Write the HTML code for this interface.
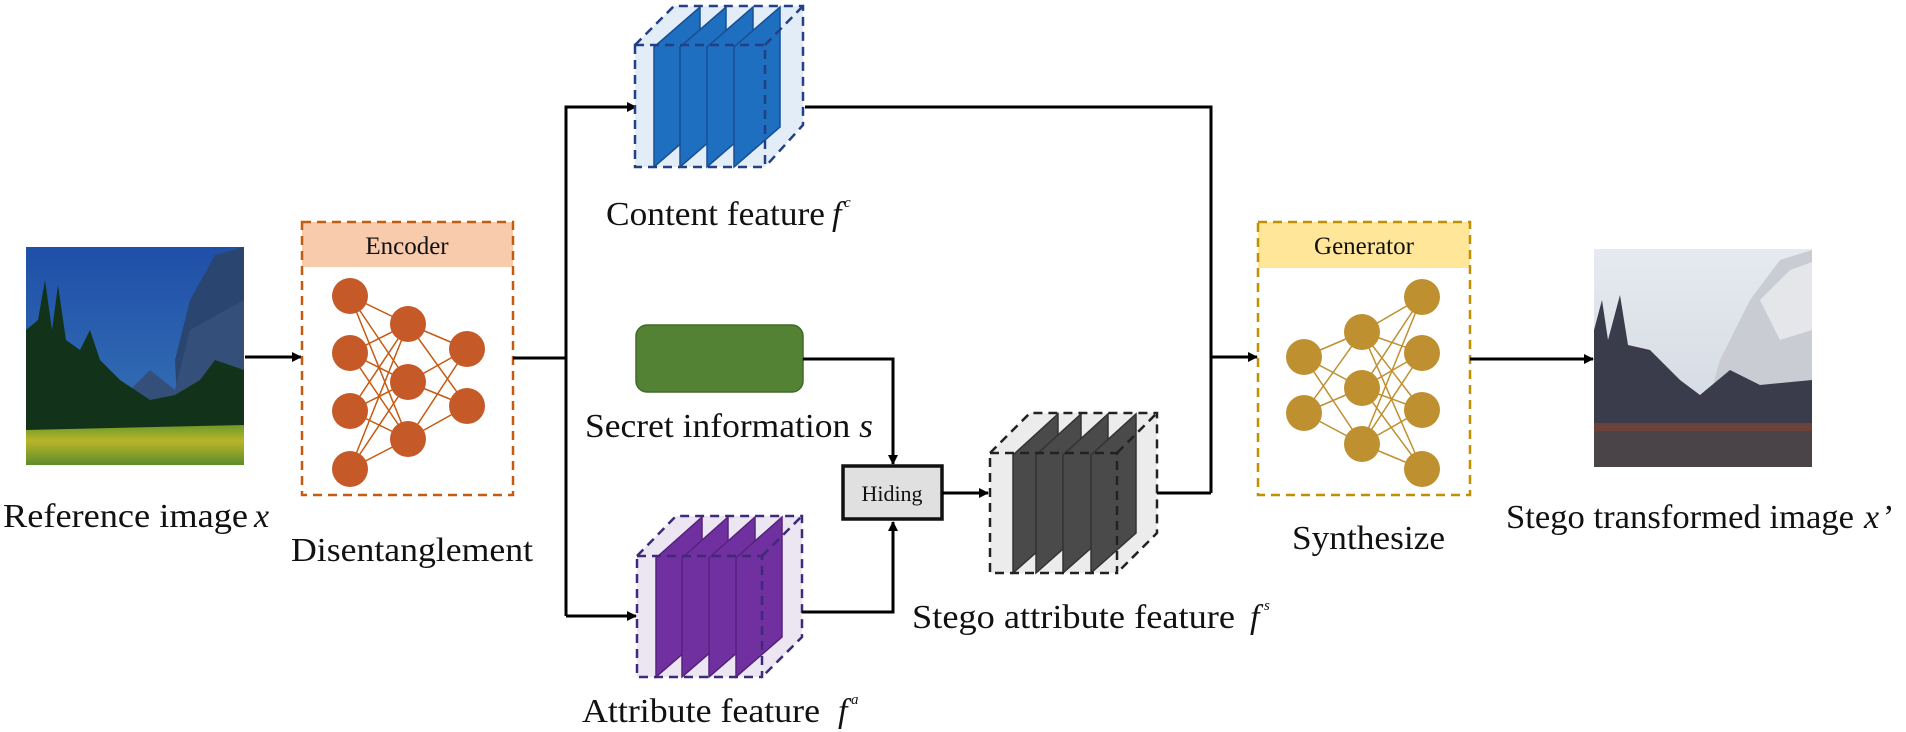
<!DOCTYPE html>
<html><head><meta charset="utf-8"><style>
html,body{margin:0;padding:0;background:#fff;}
svg{display:block;}
text{font-family:"Liberation Serif",serif;fill:#111;}
</style></head><body>
<svg width="1906" height="732" viewBox="0 0 1906 732" xmlns="http://www.w3.org/2000/svg">
<defs>
<marker id="ar" markerWidth="10" markerHeight="10" refX="9" refY="5" orient="auto" markerUnits="userSpaceOnUse">
<path d="M0,0 L10,5 L0,10 z" fill="#000"/></marker>
<linearGradient id="sky" x1="0" y1="0" x2="0" y2="1"><stop offset="0" stop-color="#1f4fa8"/><stop offset="1" stop-color="#3a78b8"/></linearGradient>
<linearGradient id="grass" x1="0" y1="0" x2="0" y2="1"><stop offset="0" stop-color="#6c9a2a"/><stop offset="0.4" stop-color="#b9b52a"/><stop offset="1" stop-color="#5d8c2a"/></linearGradient>
<linearGradient id="sky2" x1="0" y1="0" x2="0" y2="1"><stop offset="0" stop-color="#e6eaf0"/><stop offset="1" stop-color="#cfd6df"/></linearGradient>
</defs>

<rect x="26" y="247" width="218" height="218" fill="url(#sky)"/>
<path d="M180,465 L175,360 L190,300 L215,255 L244,247 L244,465z" fill="#2a4670"/>
<path d="M120,400 L150,370 L175,390 L190,330 L244,300 L244,420 L120,420z" fill="#34507a"/>
<path d="M26,420 L26,330 L38,320 L45,280 L52,330 L58,285 L66,340 L80,350 L90,330 L100,360 L120,380 L150,400 L175,395 L200,380 L215,360 L244,370 L244,430 L26,430z" fill="#12331a"/>
<path d="M26,430 L244,425 L244,465 L26,465z" fill="url(#grass)"/>

<line x1="245" y1="357" x2="301" y2="357" stroke="#000" stroke-width="3" marker-end="url(#ar)"/>

<rect x="302" y="222" width="211" height="45" fill="#f8cbad"/>
<rect x="302" y="222" width="211" height="273" fill="none" stroke="#c55a11" stroke-width="2.5" stroke-dasharray="9 6"/>
<text x="407" y="254" font-size="25" text-anchor="middle">Encoder</text>
<g stroke="#c55a11" stroke-width="1.5">
<line x1="350" y1="296" x2="408" y2="324"/><line x1="350" y1="296" x2="408" y2="382"/><line x1="350" y1="296" x2="408" y2="439"/>
<line x1="350" y1="353" x2="408" y2="324"/><line x1="350" y1="353" x2="408" y2="382"/><line x1="350" y1="353" x2="408" y2="439"/>
<line x1="350" y1="411" x2="408" y2="324"/><line x1="350" y1="411" x2="408" y2="382"/><line x1="350" y1="411" x2="408" y2="439"/>
<line x1="350" y1="469" x2="408" y2="324"/><line x1="350" y1="469" x2="408" y2="382"/><line x1="350" y1="469" x2="408" y2="439"/>
<line x1="408" y1="324" x2="467" y2="349"/><line x1="408" y1="324" x2="467" y2="406"/>
<line x1="408" y1="382" x2="467" y2="349"/><line x1="408" y1="382" x2="467" y2="406"/>
<line x1="408" y1="439" x2="467" y2="349"/><line x1="408" y1="439" x2="467" y2="406"/>
</g>
<g fill="#c55a28">
<circle cx="350" cy="296" r="18"/><circle cx="350" cy="353" r="18"/><circle cx="350" cy="411" r="18"/><circle cx="350" cy="469" r="18"/>
<circle cx="408" cy="324" r="18"/><circle cx="408" cy="382" r="18"/><circle cx="408" cy="439" r="18"/>
<circle cx="467" cy="349" r="18"/><circle cx="467" cy="406" r="18"/>
</g>

<polyline points="513,358 566,358" fill="none" stroke="#000" stroke-width="3"/>
<polyline points="566,616 566,107 636,107" fill="none" stroke="#000" stroke-width="3" marker-end="url(#ar)"/>
<polyline points="566,616 636,616" fill="none" stroke="#000" stroke-width="3" marker-end="url(#ar)"/>

<g>
<path d="M635,45 L674,6 L803,6 L803,125 L765,167 L635,167z" fill="#e3edf8"/>
<g fill="#1f6fc0" stroke="#164f94" stroke-width="1.5">
<path d="M654,167 L654,47 L700,7 L700,127z"/>
<path d="M680,167 L680,47 L726,7 L726,127z"/>
<path d="M707,167 L707,47 L753,7 L753,127z"/>
<path d="M734,167 L734,47 L780,7 L780,127z"/>
</g>
<g fill="none" stroke="#233f86" stroke-width="2.5" stroke-dasharray="9 6">
<rect x="635" y="45" width="130" height="122"/>
<path d="M635,45 L674,6 L803,6 L803,125 L765,167"/>
<path d="M765,45 L803,6"/>
</g>
</g>
<text x="606" y="225" font-size="34" textLength="219" lengthAdjust="spacingAndGlyphs">Content feature</text>
<text x="832" y="225" font-size="34" font-style="italic">f</text>
<text x="844" y="207" font-size="15" font-style="italic">c</text>

<polyline points="805,107 1211,107 1211,493" fill="none" stroke="#000" stroke-width="3"/>
<line x1="1211" y1="357" x2="1257" y2="357" stroke="#000" stroke-width="3" marker-end="url(#ar)"/>

<rect x="636" y="325" width="167" height="67" rx="11" fill="#548235" stroke="#3f6a26" stroke-width="1.5"/>
<text x="585" y="437" font-size="34" textLength="288" lengthAdjust="spacingAndGlyphs">Secret information <tspan font-style="italic">s</tspan></text>
<polyline points="803,359 893,359 893,464" fill="none" stroke="#000" stroke-width="3" marker-end="url(#ar)"/>

<rect x="843" y="466" width="99" height="53" fill="#e0e0e0" stroke="#111" stroke-width="3.5"/>
<text x="892" y="501" font-size="22" text-anchor="middle">Hiding</text>

<g>
<path d="M637,556 L676,516 L802,516 L802,637 L762,677 L637,677z" fill="#ece6f3"/>
<g fill="#7030a0" stroke="#55237d" stroke-width="1.5">
<path d="M656,677 L656,558 L702,517 L702,637z"/>
<path d="M682,677 L682,558 L728,517 L728,637z"/>
<path d="M709,677 L709,558 L755,517 L755,637z"/>
<path d="M736,677 L736,558 L782,517 L782,637z"/>
</g>
<g fill="none" stroke="#3e2a78" stroke-width="2.5" stroke-dasharray="9 6">
<rect x="637" y="556" width="125" height="121"/>
<path d="M637,556 L676,516 L802,516 L802,637 L762,677"/>
<path d="M762,556 L802,516"/>
</g>
</g>
<text x="582" y="722" font-size="34" textLength="238" lengthAdjust="spacingAndGlyphs">Attribute feature</text>
<text x="838" y="722" font-size="34" font-style="italic">f</text>
<text x="851" y="704" font-size="15" font-style="italic">a</text>
<polyline points="802,612 893,612 893,522" fill="none" stroke="#000" stroke-width="3" marker-end="url(#ar)"/>

<line x1="942" y1="493" x2="988" y2="493" stroke="#000" stroke-width="3" marker-end="url(#ar)"/>

<g>
<path d="M990,453 L1030,413 L1157,413 L1157,533 L1117,573 L990,573z" fill="#ececec"/>
<g fill="#4a4a4a" stroke="#333" stroke-width="1.5">
<path d="M1013,573 L1013,455 L1058,414 L1058,533z"/>
<path d="M1036,573 L1036,455 L1081,414 L1081,533z"/>
<path d="M1063,573 L1063,455 L1108,414 L1108,533z"/>
<path d="M1091,573 L1091,455 L1136,414 L1136,533z"/>
</g>
<g fill="none" stroke="#222" stroke-width="2.5" stroke-dasharray="9 6">
<rect x="990" y="453" width="127" height="120"/>
<path d="M990,453 L1030,413 L1157,413 L1157,533 L1117,573"/>
<path d="M1117,453 L1157,413"/>
</g>
</g>
<polyline points="1157,493 1211,493" fill="none" stroke="#000" stroke-width="3"/>
<text x="912" y="628" font-size="34" textLength="323" lengthAdjust="spacingAndGlyphs">Stego attribute feature</text>
<text x="1250" y="628" font-size="34" font-style="italic">f</text>
<text x="1264" y="610" font-size="15" font-style="italic">s</text>

<rect x="1258" y="222" width="212" height="46" fill="#ffe699"/>
<rect x="1258" y="222" width="212" height="273" fill="none" stroke="#bf9000" stroke-width="2.5" stroke-dasharray="9 6"/>
<text x="1364" y="254" font-size="25" text-anchor="middle">Generator</text>
<g stroke="#bf9030" stroke-width="1.5">
<line x1="1304" y1="357" x2="1362" y2="332"/><line x1="1304" y1="357" x2="1362" y2="388"/><line x1="1304" y1="357" x2="1362" y2="444"/>
<line x1="1304" y1="413" x2="1362" y2="332"/><line x1="1304" y1="413" x2="1362" y2="388"/><line x1="1304" y1="413" x2="1362" y2="444"/>
<line x1="1362" y1="332" x2="1422" y2="297"/><line x1="1362" y1="332" x2="1422" y2="353"/><line x1="1362" y1="332" x2="1422" y2="410"/><line x1="1362" y1="332" x2="1422" y2="469"/>
<line x1="1362" y1="388" x2="1422" y2="297"/><line x1="1362" y1="388" x2="1422" y2="353"/><line x1="1362" y1="388" x2="1422" y2="410"/><line x1="1362" y1="388" x2="1422" y2="469"/>
<line x1="1362" y1="444" x2="1422" y2="297"/><line x1="1362" y1="444" x2="1422" y2="353"/><line x1="1362" y1="444" x2="1422" y2="410"/><line x1="1362" y1="444" x2="1422" y2="469"/>
</g>
<g fill="#bf9030">
<circle cx="1304" cy="357" r="18"/><circle cx="1304" cy="413" r="18"/>
<circle cx="1362" cy="332" r="18"/><circle cx="1362" cy="388" r="18"/><circle cx="1362" cy="444" r="18"/>
<circle cx="1422" cy="297" r="18"/><circle cx="1422" cy="353" r="18"/><circle cx="1422" cy="410" r="18"/><circle cx="1422" cy="469" r="18"/>
</g>
<text x="1292" y="549" font-size="34" textLength="153" lengthAdjust="spacingAndGlyphs">Synthesize</text>

<line x1="1470" y1="359" x2="1593" y2="359" stroke="#000" stroke-width="3" marker-end="url(#ar)"/>

<rect x="1594" y="249" width="218" height="218" fill="url(#sky2)"/>
<path d="M1700,430 L1720,360 L1750,300 L1780,260 L1812,250 L1812,430z" fill="#c9ccd2"/>
<path d="M1760,300 L1790,270 L1812,262 L1812,330 L1780,340z" fill="#e4e6ea"/>
<path d="M1594,440 L1594,330 L1602,300 L1608,340 L1620,295 L1628,345 L1650,350 L1680,380 L1700,395 L1730,370 L1760,385 L1812,380 L1812,440z" fill="#3a3c4c"/>
<rect x="1594" y="423" width="218" height="8" fill="#6b4138"/>
<rect x="1594" y="431" width="218" height="36" fill="#4a4448"/>

<text x="3" y="527" font-size="34" textLength="245" lengthAdjust="spacingAndGlyphs">Reference image</text>
<text x="254" y="527" font-size="34" font-style="italic">x</text>
<text x="291" y="561" font-size="34" textLength="242" lengthAdjust="spacingAndGlyphs">Disentanglement</text>
<text x="1506" y="528" font-size="34" textLength="348" lengthAdjust="spacingAndGlyphs">Stego transformed image</text>
<text x="1864" y="528" font-size="34" font-style="italic">x</text>
<text x="1883" y="528" font-size="34">’</text>
</svg>
</body></html>
